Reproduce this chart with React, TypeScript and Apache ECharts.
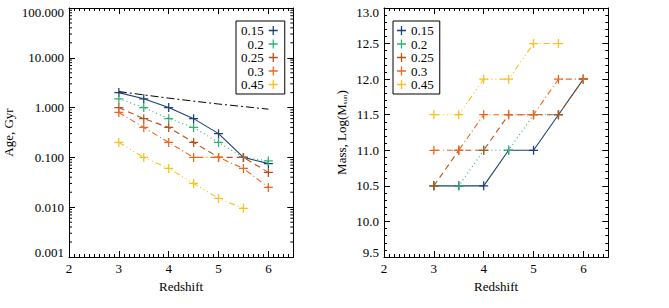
import React, { useEffect, useRef } from "react";
import * as echarts from "echarts";

const FONT = '"Liberation Serif", "Times New Roman", serif';

const redshift = [3, 3.5, 4, 4.5, 5, 5.5, 6];
const seriesNames = ["0.15", "0.2", "0.25", "0.3", "0.45"];
const seriesColors = ["#1c3f78", "#2db36e", "#b5521c", "#f0661e", "#f6c21b"];
const seriesDash: any[] = ["solid", [1, 3], [6, 4], [6, 3, 1, 3], [6, 3, 1, 3, 1, 3, 1, 3]];

// Age, Gyr (left panel)
const age015 = [2.0, 1.5, 1.0, 0.6, 0.3, 0.1, 0.075];
const age02 = [1.5, 1.0, 0.6, 0.4, 0.2, 0.1, 0.085];
const age025 = [1.0, 0.6, 0.4, 0.2, 0.1, 0.1, 0.05];
const age03 = [0.8, 0.4, 0.2, 0.1, 0.1, 0.06, 0.025];
const age045 = [0.2, 0.1, 0.06, 0.03, 0.015, 0.0095];
const universeAge = [2.1, 1.8, 1.55, 1.35, 1.18, 1.05, 0.93];

// Mass, Log(Msun) (right panel)
const mass015 = [10.5, 10.5, 10.5, 11.0, 11.0, 11.5, 12.0];
const mass02 = [10.5, 10.5, 11.0, 11.0, 11.5, 11.5, 12.0];
const mass025 = [10.5, 11.0, 11.0, 11.5, 11.5, 11.5, 12.0];
const mass03 = [11.0, 11.0, 11.5, 11.5, 11.5, 12.0, 12.0];
const mass045 = [11.5, 11.5, 12.0, 12.0, 12.5, 12.5];

const ageTicks = ["0.001", "0.010", "0.100", "1.000", "10.000", "100.000"];
const massTicks = ["9.5", "10.0", "10.5", "11.0", "11.5", "12.0", "12.5", "13.0"];
const xTicks = ["2", "3", "4", "5", "6"];

const X_MIN = 2;
const X_MAX = 6.5;

const PLUS = "path://M4.3,0h1.4v10h-1.4z M0,4.3h10v1.4h-10z";

const pairs = (ys: number[]) => ys.map((y, i) => [redshift[i], y]);

export default function App() {
  const ref = useRef<HTMLDivElement>(null);
  useEffect(() => {
    const chart = echarts.init(ref.current!, null, { renderer: "svg" });
    const ageSets = [age015, age02, age025, age03, age045];
    const massSets = [mass015, mass02, mass025, mass03, mass045];
    const logMin = Number(ageTicks[0]);
    const logMax = Number(ageTicks[ageTicks.length - 1]);
    const massMin = Number(massTicks[0]);
    const massMax = Number(massTicks[massTicks.length - 1]);

    const minorLog: number[][] = [];
    for (let d = Math.log10(logMin); d < Math.log10(logMax); d++) {
      for (let k = 2; k <= 9; k++) minorLog.push([X_MIN, k * Math.pow(10, d)]);
    }

    const baseText = { fontFamily: FONT, fontSize: 13, color: "#000", fontWeight: "normal" };
    const line = { show: true, onZero: false, lineStyle: { color: "#000", width: 1 } };

    const xMain = (grid: number, pos: "bottom" | "top", labels: boolean) => ({
      type: "value",
      gridIndex: grid,
      position: pos,
      min: X_MIN,
      max: X_MAX,
      interval: 1,
      axisLine: line,
      axisTick: { show: true, inside: true, length: 6, lineStyle: { color: "#000" } },
      axisLabel: labels
        ? {
            show: true,
            ...baseText,
            margin: 5,
            showMaxLabel: false,
            formatter: (v: number) => (xTicks.includes(String(v)) ? String(v) : ""),
          }
        : { show: false },
      splitLine: { show: false },
      name: labels && pos === "bottom" ? "Redshift" : "",
      nameLocation: "middle",
      nameGap: 16,
      nameTextStyle: baseText,
    });
    const xMinor = (grid: number, pos: "bottom" | "top") => ({
      type: "value",
      gridIndex: grid,
      position: pos,
      min: X_MIN,
      max: X_MAX,
      interval: 0.1,
      axisLine: { show: false, onZero: false },
      axisTick: { show: true, inside: true, length: 3, lineStyle: { color: "#000" } },
      axisLabel: { show: false },
      splitLine: { show: false },
    });

    const endRich = {
      top: { ...baseText, padding: [9, 0, 0, 0] },
      bot: { ...baseText, padding: [0, 0, 9, 0] },
      n: { ...baseText },
    };

    const option: any = {
      animation: false,
      grid: [
        { left: 69, top: 8, width: 224.3, height: 249 },
        { left: 384, top: 8, width: 224.3, height: 249 },
      ],
      xAxis: [
        xMain(0, "bottom", true),
        xMain(0, "top", false),
        xMinor(0, "bottom"),
        xMinor(0, "top"),
        xMain(1, "bottom", true),
        xMain(1, "top", false),
        xMinor(1, "bottom"),
        xMinor(1, "top"),
      ],
      yAxis: [
        {
          type: "log",
          logBase: 10,
          gridIndex: 0,
          position: "left",
          min: logMin,
          max: logMax,
          axisLine: line,
          axisTick: { show: true, inside: true, length: 6, lineStyle: { color: "#000" } },
          axisLabel: {
            ...baseText,
            margin: 5,
            rich: endRich,
            formatter: (v: number) => {
              const s = Number(v).toFixed(3);
              if (s === ageTicks[ageTicks.length - 1]) return "{top|" + s + "}";
              if (s === ageTicks[0]) return "{bot|" + s + "}";
              return "{n|" + s + "}";
            },
          },
          splitLine: { show: false },
          name: "Age, Gyr",
          nameLocation: "middle",
          nameGap: 54,
          nameTextStyle: baseText,
        },
        {
          type: "log",
          logBase: 10,
          gridIndex: 0,
          position: "right",
          min: logMin,
          max: logMax,
          axisLine: line,
          axisTick: { show: true, inside: true, length: 6, lineStyle: { color: "#000" } },
          axisLabel: { show: false },
          splitLine: { show: false },
        },
        {
          type: "value",
          gridIndex: 1,
          position: "left",
          min: massMin,
          max: massMax,
          interval: 0.5,
          axisLine: line,
          axisTick: { show: true, inside: true, length: 6, lineStyle: { color: "#000" } },
          axisLabel: {
            ...baseText,
            margin: 5,
            rich: endRich,
            formatter: (v: number) => {
              const s = Number(v).toFixed(1);
              if (s === massTicks[massTicks.length - 1]) return "{top|" + s + "}";
              if (s === massTicks[0]) return "{bot|" + s + "}";
              return "{n|" + s + "}";
            },
          },
          splitLine: { show: false },
          name: "Mass, Log(M{sub|sun})",
          nameLocation: "middle",
          nameGap: 36,
          nameTextStyle: {
            ...baseText,
            rich: {
              sub: { fontFamily: FONT, fontSize: 7, color: "#000", verticalAlign: "bottom", padding: [5, 0, 0, 0] },
            },
          },
        },
        {
          type: "value",
          gridIndex: 1,
          position: "right",
          min: massMin,
          max: massMax,
          interval: 0.5,
          axisLine: line,
          axisTick: { show: true, inside: true, length: 6, lineStyle: { color: "#000" } },
          axisLabel: { show: false },
          splitLine: { show: false },
        },
        {
          type: "value",
          gridIndex: 1,
          position: "left",
          min: massMin,
          max: massMax,
          interval: 0.1,
          axisLine: { show: false, onZero: false },
          axisTick: { show: true, inside: true, length: 3, lineStyle: { color: "#000" } },
          axisLabel: { show: false },
          splitLine: { show: false },
        },
        {
          type: "value",
          gridIndex: 1,
          position: "right",
          min: massMin,
          max: massMax,
          interval: 0.1,
          axisLine: { show: false, onZero: false },
          axisTick: { show: true, inside: true, length: 3, lineStyle: { color: "#000" } },
          axisLabel: { show: false },
          splitLine: { show: false },
        },
      ],
      legend: [
        {
          data: seriesNames,
          orient: "vertical",
          left: 236,
          top: 21,
          align: "right",
          icon: PLUS,
          itemWidth: 9,
          itemHeight: 9,
          itemGap: 0.5,
          padding: [3, 7, 3, 5],
          borderColor: "#000",
          borderWidth: 1,
          selectedMode: false,
          textStyle: baseText,
        },
        {
          data: seriesNames,
          orient: "vertical",
          left: 393,
          top: 21,
          align: "left",
          icon: PLUS,
          itemWidth: 9,
          itemHeight: 9,
          itemGap: 0.5,
          padding: [3, 6, 3, 4],
          borderColor: "#000",
          borderWidth: 1,
          selectedMode: false,
          textStyle: baseText,
        },
      ],
      series: [
        {
          type: "line",
          name: "age of universe",
          xAxisIndex: 0,
          yAxisIndex: 0,
          data: pairs(universeAge),
          symbol: "none",
          lineStyle: { color: "#000", width: 1, type: [8, 3, 2, 3] },
          silent: true,
        },
        ...seriesNames.map((name, i) => ({
          type: "line",
          name,
          xAxisIndex: 0,
          yAxisIndex: 0,
          data: pairs(ageSets[i]),
          symbol: PLUS,
          symbolSize: 9,
          itemStyle: { color: seriesColors[i], borderWidth: 0 },
          lineStyle: { color: seriesColors[i], width: 1.1, type: seriesDash[i] },
          silent: true,
        })),
        ...seriesNames.map((name, i) => ({
          type: "line",
          name,
          xAxisIndex: 4,
          yAxisIndex: 2,
          data: pairs(massSets[i]),
          symbol: PLUS,
          symbolSize: 9,
          itemStyle: { color: seriesColors[i], borderWidth: 0 },
          lineStyle: { color: seriesColors[i], width: 1.1, type: seriesDash[i] },
          silent: true,
        })),
        {
          type: "custom",
          name: "minor",
          xAxisIndex: 0,
          yAxisIndex: 0,
          silent: true,
          clip: false,
          data: minorLog,
          renderItem: (params: any, api: any) => {
            const v = api.value(1);
            const l = api.coord([X_MIN, v]);
            const r = api.coord([X_MAX, v]);
            return {
              type: "group",
              children: [
                { type: "line", shape: { x1: l[0], y1: l[1], x2: l[0] + 3, y2: l[1] }, style: { stroke: "#000", lineWidth: 1 } },
                { type: "line", shape: { x1: r[0] - 3, y1: r[1], x2: r[0], y2: r[1] }, style: { stroke: "#000", lineWidth: 1 } },
              ],
            };
          },
        },
      ],
    };
    chart.setOption(option);
    return () => chart.dispose();
  }, []);
  return (
    <div
      ref={ref}
      style={{ position: "absolute", left: 0, top: 0, width: 669, height: 308, background: "#fff" }}
    />
  );
}
